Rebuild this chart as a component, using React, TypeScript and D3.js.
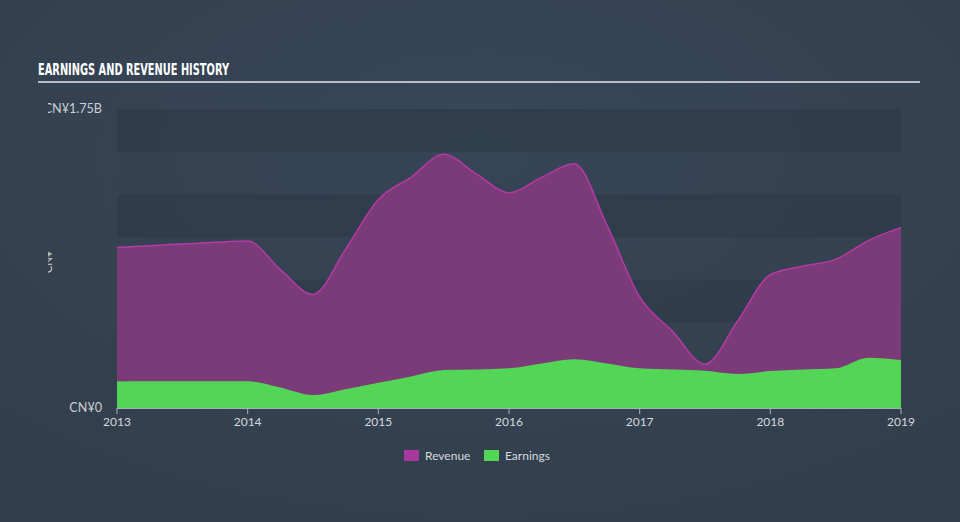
import React from "react";
import * as d3 from "d3";

const periods: number[] = [
  2013.0, 2013.25, 2013.5, 2013.75, 2014.0, 2014.25, 2014.5, 2014.75,
  2015.0, 2015.25, 2015.5, 2015.75, 2016.0, 2016.25, 2016.5, 2016.75,
  2017.0, 2017.25, 2017.5, 2017.75, 2018.0, 2018.25, 2018.5, 2018.75, 2019.0,
];
// billions CNY
const revenue: number[] = [
  0.94, 0.95, 0.96, 0.97, 0.977, 0.81, 0.665, 0.93,
  1.22, 1.35, 1.485, 1.37, 1.26, 1.35, 1.43, 1.07,
  0.65, 0.45, 0.257, 0.51, 0.78, 0.83, 0.87, 0.98, 1.057,
];
const earnings: number[] = [
  0.155, 0.156, 0.157, 0.157, 0.156, 0.12, 0.076, 0.11,
  0.148, 0.185, 0.222, 0.226, 0.232, 0.26, 0.285, 0.26,
  0.232, 0.225, 0.218, 0.199, 0.216, 0.225, 0.232, 0.294, 0.281,
];
const yearTicks: number[] = [2013, 2014, 2015, 2016, 2017, 2018, 2019];
const bandEdges: number[] = [0, 0.25, 0.5, 0.75, 1.0, 1.25, 1.5, 1.75];
const yLabels: { v: number; t: string }[] = [
  { v: 1.75, t: "CN¥1.75B" },
  { v: 0, t: "CN¥0" },
];
const legendItems: { name: string; color: string }[] = [
  { name: "Revenue", color: "#a8389c" },
  { name: "Earnings", color: "#53d656" },
];

const W = 960;
const H = 522;
const left = 117;
const right = 901;
const top = 109;
const bottom = 408;

export default function App() {
  const x = d3.scaleLinear().domain([2013, 2019]).range([left, right]);
  const y = d3.scaleLinear().domain([0, 1.75]).range([bottom, top]);

  const revData = periods.map((p, i) => ({ p, v: revenue[i] }));
  const earnData = periods.map((p, i) => ({ p, v: earnings[i] }));

  const area = d3
    .area<{ p: number; v: number }>()
    .x((d) => x(d.p))
    .y0(y(0))
    .y1((d) => y(d.v))
    .curve(d3.curveMonotoneX);
  const line = d3
    .line<{ p: number; v: number }>()
    .x((d) => x(d.p))
    .y((d) => y(d.v))
    .curve(d3.curveMonotoneX);

  const bands = [];
  for (let i = 0; i < bandEdges.length - 1; i++) {
    const y0 = y(bandEdges[i]);
    const y1 = y(bandEdges[i + 1]);
    const dark = (bandEdges.length - 2 - i) % 2 === 0;
    bands.push(
      <rect
        key={i}
        x={left}
        y={y1}
        width={right - left}
        height={y0 - y1}
        fill={dark ? "#2e3b4a" : "#34424f"}
        opacity={dark ? 0.75 : 0.3}
      />
    );
  }

  const font = "Lato, 'Open Sans', sans-serif";

  return (
    <svg
      width={W}
      height={H}
      style={{ position: "absolute", left: 0, top: 0 }}
      xmlns="http://www.w3.org/2000/svg"
    >
      <defs>
        <radialGradient id="bg" cx="50%" cy="30%" r="75%">
          <stop offset="0%" stopColor="#37475a" />
          <stop offset="100%" stopColor="#323e4b" />
        </radialGradient>
        <clipPath id="lclip">
          <rect x={48} y={0} width={W} height={H} />
        </clipPath>
      </defs>
      <rect x={0} y={0} width={W} height={H} fill="url(#bg)" />

      <text
        x={38}
        y={75}
        fill="#ffffff"
        fontFamily="'DejaVu Sans Condensed', 'Liberation Sans Narrow', sans-serif"
        fontWeight="bold"
        fontSize={16}
        textLength={191}
        lengthAdjust="spacingAndGlyphs"
      >
        EARNINGS AND REVENUE HISTORY
      </text>
      <rect x={38} y={81} width={882} height={2} fill="#b9bec5" />

      {bands}

      <path d={area(revData) || ""} fill="#7b3a78" />
      <path d={line(revData) || ""} fill="none" stroke="#b53aa6" strokeWidth={1.5} />
      <path d={area(earnData) || ""} fill="#53d656" />

      <line x1={left} x2={right} y1={bottom + 0.5} y2={bottom + 0.5} stroke="#aab1bb" strokeWidth={1} />
      {yearTicks.map((t) => (
        <g key={t}>
          <line x1={x(t)} x2={x(t)} y1={bottom} y2={bottom + 6} stroke="#aab1bb" strokeWidth={1} />
          <text
            x={x(t)}
            y={426}
            textAnchor="middle"
            fill="#d5d9de"
            fontFamily={font}
            fontSize={12}
          >
            {t}
          </text>
        </g>
      ))}

      <g clipPath="url(#lclip)">
        {yLabels.map((l) => (
          <text
            key={l.t}
            x={102}
            y={y(l.v) + 4}
            textAnchor="end"
            fill="#c9ced4"
            fontFamily={font}
            fontSize={12.6}
          >
            {l.t}
          </text>
        ))}
        <text
          transform={`translate(52,262) rotate(-90)`}
          textAnchor="middle"
          fill="#c9ced4"
          fontFamily={font}
          fontSize={11}
        >
          CN¥
        </text>
      </g>

      {legendItems.map((it, i) => {
        const lx = i === 0 ? 404 : 484;
        return (
          <g key={it.name}>
            <rect x={lx} y={450} width={15} height={11} fill={it.color} />
            <text
              x={lx + 21}
              y={460}
              fill="#d5d9de"
              fontFamily={font}
              fontSize={12}
            >
              {it.name}
            </text>
          </g>
        );
      })}
    </svg>
  );
}
